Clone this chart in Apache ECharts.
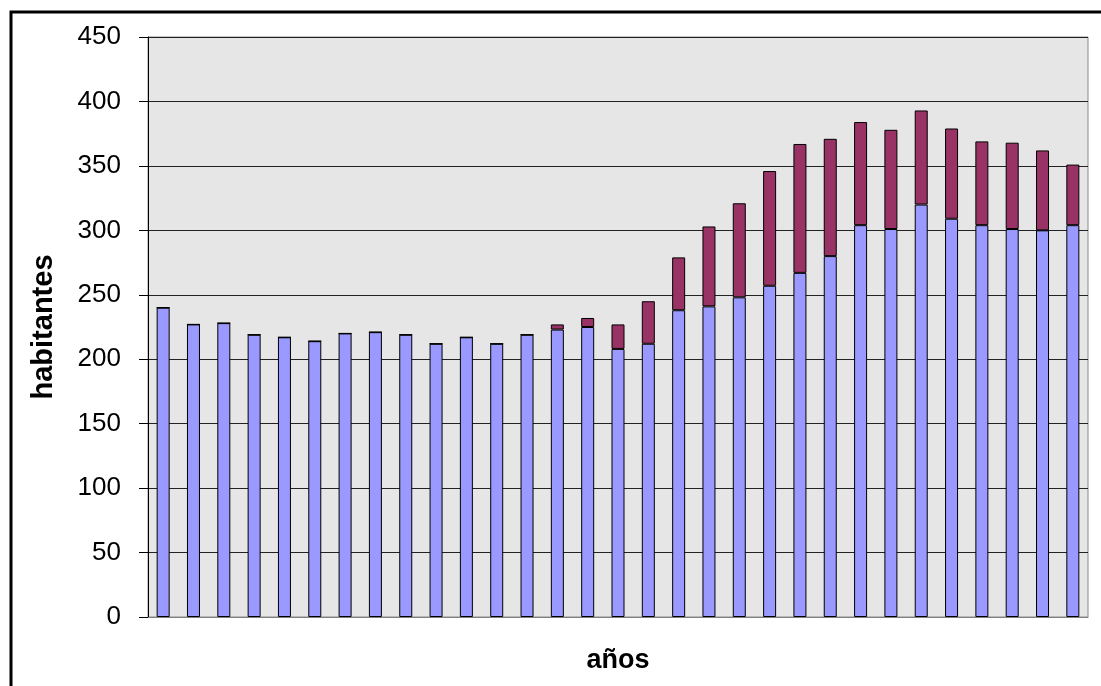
<!DOCTYPE html>
<html>
<head>
<meta charset="utf-8">
<script src="https://cdn.jsdelivr.net/npm/echarts@6/dist/echarts.min.js"></script>
<style>
  html, body { margin: 0; padding: 0; background: #fff; }
  #chart { width: 1101px; height: 686px; }
</style>
</head>
<body>
<div id="chart"></div>
<script>
// 31 years, no labels shown on the x axis
const years = [];
for (let i = 1; i <= 31; i++) years.push(String(i));

const baseValues = [240, 227, 228, 219, 217, 214, 220, 221, 219, 212, 217, 212, 219,
  223, 225, 208, 212, 238, 241, 248, 257, 267, 280, 304, 301, 320, 309, 304, 301, 300, 304];
const extraValues = [0, 0, 0, 0, 0, 0, 0, 0, 0, 0, 0, 0, 0,
  4, 7, 19, 33, 41, 62, 73, 89, 100, 91, 80, 77, 73, 70, 65, 67, 62, 47];

const yTicks = [0, 450, 50]; // min, max, interval

const chart = echarts.init(document.getElementById('chart'));

chart.setOption({
  animation: false,
  textStyle: { fontFamily: 'Liberation Sans, Arial, sans-serif' },
  graphic: [{
    type: 'rect',
    shape: { x: 11, y: 12, width: 1200, height: 800 },
    style: { fill: 'none', stroke: '#000', lineWidth: 3 },
    silent: true
  }],
  grid: {
    left: 148, right: 13, top: 37, bottom: 69,
    show: true,
    backgroundColor: '#e6e6e6',
    borderColor: '#8c8c8c',
    borderWidth: 1
  },
  xAxis: {
    type: 'category',
    data: years,
    name: 'años',
    nameLocation: 'middle',
    nameGap: 30,
    nameTextStyle: { fontSize: 27, fontWeight: 'bold', color: '#000' },
    axisLine: { lineStyle: { color: '#808080', width: 1 } },
    axisTick: { show: false },
    axisLabel: { show: false },
    splitLine: { show: false }
  },
  yAxis: {
    type: 'value',
    min: yTicks[0],
    max: yTicks[1],
    interval: yTicks[2],
    name: 'habitantes',
    nameLocation: 'middle',
    nameGap: 90,
    nameTextStyle: { fontSize: 29, fontWeight: 'bold', color: '#000' },
    axisLine: { show: true, lineStyle: { color: '#000', width: 1 } },
    axisTick: { show: true, length: 9, lineStyle: { color: '#000' } },
    axisLabel: { fontSize: 26, color: '#000', margin: 27 },
    splitLine: { show: true, lineStyle: { color: '#222', width: 1 } }
  },
  series: [
    {
      name: 'base',
      type: 'bar',
      stack: 'total',
      data: baseValues,
      barWidth: 13,
      itemStyle: { color: '#9999ff', borderColor: '#000', borderWidth: 1 }
    },
    {
      name: 'extra',
      type: 'bar',
      stack: 'total',
      data: extraValues,
      barWidth: 13,
      itemStyle: { color: '#993366', borderColor: '#000', borderWidth: 1 }
    }
  ]
});
</script>
</body>
</html>
